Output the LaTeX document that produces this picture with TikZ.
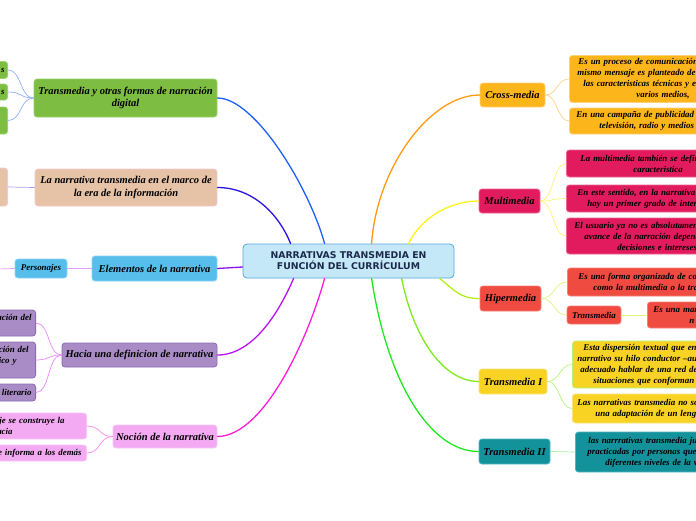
\documentclass[tikz,border=0pt]{standalone}
\usepackage{fontspec}
\setmainfont{Liberation Serif}
\newfontfamily\ctrfont{DejaVu Sans}
\usetikzlibrary{calc}
\definecolor{gruen}{HTML}{7CBD42}
\definecolor{gruenR}{HTML}{9AD36A}
\definecolor{sand}{HTML}{E6C2A6}
\definecolor{sandR}{HTML}{F5C8CF}
\definecolor{himmel}{HTML}{57BDEB}
\definecolor{himmelR}{HTML}{8CD4F3}
\definecolor{lila}{HTML}{A98CC6}
\definecolor{lilaR}{HTML}{8C69B3}
\definecolor{rosa}{HTML}{F3AAF2}
\definecolor{rosaR}{HTML}{F8C6F7}
\definecolor{ora}{HTML}{FCB51A}
\definecolor{oraR}{HTML}{FFD27A}
\definecolor{himb}{HTML}{E21B5F}
\definecolor{himbR}{HTML}{F0628F}
\definecolor{rot}{HTML}{F04B40}
\definecolor{rotR}{HTML}{F58078}
\definecolor{gelb}{HTML}{F8D324}
\definecolor{gelbR}{HTML}{FBE27A}
\definecolor{petrol}{HTML}{14929C}
\definecolor{petrolR}{HTML}{4FB8C0}
\definecolor{hell}{HTML}{C5E8F8}
\definecolor{hellR}{HTML}{5AA5DB}
\definecolor{navy}{HTML}{1B2A4A}
% connector colours
\definecolor{cBlau}{HTML}{1F5FFF}
\definecolor{cIndigo}{HTML}{2A12E0}
\definecolor{cPurp}{HTML}{8A10F0}
\definecolor{cViol}{HTML}{BB12F5}
\definecolor{cMag}{HTML}{FF1CD8}
\definecolor{cOra}{HTML}{FF9A10}
\definecolor{cGelb}{HTML}{FFF21A}
\definecolor{cLime}{HTML}{B0F01A}
\definecolor{cGruen}{HTML}{7EEB1A}
\definecolor{cGift}{HTML}{1EE81E}
\definecolor{tBlau}{HTML}{8FB0FF}
\definecolor{tLav}{HTML}{A9A0F5}
\definecolor{tLila}{HTML}{E0A0F5}
\definecolor{tViol}{HTML}{E88AF5}
\definecolor{tMag}{HTML}{FF8AE8}
\definecolor{tOra}{HTML}{FFD08A}
\definecolor{tGelb}{HTML}{FFF27A}
\definecolor{tLime}{HTML}{D9F57A}
\definecolor{tGruen}{HTML}{B4F57A}
\definecolor{tGift}{HTML}{A0F0A0}
\newcommand{\padx}[1]{\leavevmode\hbox to #1pt{}}
\setlength{\parindent}{0pt}

\begin{document}
\begin{tikzpicture}[x=1pt,y=-1pt,line cap=round]
	\tikzstyle{topic}=[draw,rounded corners=3pt,line width=.8pt,inner sep=0pt,align=center,font=\fontsize{10.5}{12.5}\selectfont\bfseries\itshape];
	\tikzstyle{leaf}=[draw,rounded corners=3pt,line width=.8pt,inner sep=0pt,font=\fontsize{8.9}{11}\selectfont\bfseries\itshape];
	\tikzstyle{leafR}=[leaf,anchor=west,minimum width=200pt,text width=200pt,align=left];
	\tikzstyle{leafL}=[leaf,anchor=east,minimum width=110pt,text width=110pt,align=right];
	\tikzstyle{branch}=[line width=1.3pt];
	\tikzstyle{twig}=[line width=.7pt];
%<--------------------------------------------------------------------------->%

	\useasboundingbox (0,0) rectangle (696,520);
	\clip (0,0) rectangle (696,520);
	\node[draw=hellR,fill=hell,rounded corners=4pt,line width=.8pt,minimum width=211pt,minimum height=34pt,inner sep=0pt,align=center,text=navy,font=\fontsize{9.3}{11}\selectfont\ctrfont\bfseries] (ctr) at (348.5,261) {NARRATIVAS TRANSMEDIA EN\\FUNCIÓN DEL CURRÍCULUM};
	%% left side
	\node[topic,fill=gruen,draw=gruenR,minimum width=183pt,minimum height=38pt] (trans) at (125.5,98) {Transmedia y otras formas de narración\\digital};
	\node[topic,fill=sand,draw=sandR,minimum width=182pt,minimum height=37pt] (marco) at (126,187.5) {La narrativa transmedia en el marco de\\la era de la información};
	\node[topic,fill=himmel,draw=himmelR,minimum width=125pt,minimum height=25pt] (elem) at (154.5,268.5) {Elementos de la narrativa};
	\node[topic,fill=lila,draw=lilaR,minimum width=155pt,minimum height=24pt] (defi) at (139.5,355) {Hacia una definicion de narrativa};
	\node[topic,fill=rosa,draw=rosaR,minimum width=104pt,minimum height=23pt] (nocion) at (165,436.5) {Noción de la narrativa};
	\node[leafL,fill=gruen,draw=gruenR,minimum height=17pt] (tr1) at (8,70) {s\padx{3}};
	\node[leafL,fill=gruen,draw=gruenR,minimum height=16pt] (tr2) at (8,92) {s\padx{3}};
	\node[leafL,fill=gruen,draw=gruenR,minimum height=27pt] (tr3) at (8,120.5) {};
	\node[leafL,fill=sand,draw=sandR,minimum height=38pt] (ma1) at (8,187) {};
	\node[leaf,fill=himmel,draw=himmelR,minimum width=52pt,minimum height=19pt] (pers) at (41,268.5) {Personajes};
	\coordinate (persX) at (-4,269);
	\node[leafL,fill=lila,draw=lilaR,minimum height=26pt] (de1) at (36,323) {ación del\padx{4}\\\mbox{}};
	\node[leafL,fill=lila,draw=lilaR,minimum height=36pt] (de2) at (36,360) {ción del\padx{7}\\ico y\padx{19}\\\mbox{}};
	\node[leafL,fill=lila,draw=lilaR,minimum height=17pt] (de3) at (36,392.5) {literario\padx{4}};
	\node[leafL,fill=rosa,draw=rosaR,minimum height=26pt] (no1) at (87,426) {je se construye la\padx{22}\\acia\padx{74}};
	\node[leafL,fill=rosa,draw=rosaR,minimum height=16pt] (no2) at (87,453) {se informa a los demás\padx{5}};
	%% right side
	\node[topic,fill=ora,draw=oraR,minimum width=65pt,minimum height=24pt] (cross) at (512.5,95) {Cross-media};
	\node[topic,fill=himb,draw=himbR,minimum width=61pt,minimum height=24pt] (multi) at (509.5,201) {Multimedia};
	\node[topic,fill=rot,draw=rotR,minimum width=61pt,minimum height=25pt] (hiper) at (510.5,298.5) {Hipermedia};
	\node[topic,fill=gelb,draw=gelbR,minimum width=68pt,minimum height=25pt] (tmI) at (513,381.5) {Transmedia I};
	\node[topic,fill=petrol,draw=petrolR,minimum width=71pt,minimum height=25pt] (tmII) at (514.5,451.5) {Transmedia II};
	\node[leafR,fill=ora,draw=oraR,minimum height=47pt] (cr1) at (569,79) {\padx{9}Es un proceso de comunicación\\\padx{8}mismo mensaje es planteado de\\\padx{14}las caracteristicas técnicas y ex\\\padx{67}varios medios,};
	\node[leafR,fill=ora,draw=oraR,minimum height=26pt] (cr2) at (569,121) {\padx{7}En una campaña de publicidad q\\\padx{30}televisión, radio y medios};
	\node[leafR,fill=himb,draw=himbR,minimum height=27pt] (mu1) at (566,163.5) {\padx{14}La multimedia también se defin\\\padx{67}caracteristica};
	\node[leafR,fill=himb,draw=himbR,minimum height=27pt] (mu2) at (566,198.5) {\padx{11}En este sentido, en la narrativa\\\padx{21}hay un primer grado de intera};
	\node[leafR,fill=himb,draw=himbR,minimum height=36pt] (mu3) at (566,236) {\padx{8}El usuario ya no es absolutamen\\\padx{18}avance de la narración depend\\\padx{51}decisiones e intereses};
	\node[leafR,fill=rot,draw=rotR,minimum height=28pt] (hi1) at (567,282) {\padx{11}Es una forma organizada de co\\\padx{26}como la multimedia o la tra};
	\node[leaf,fill=rot,draw=rotR,minimum width=54pt,minimum height=18pt] (hi2) at (594,315) {Transmedia};
	\node[leafR,fill=rot,draw=rotR,minimum height=26pt] (hi3) at (647,315) {\padx{6}Es una mar\\\padx{42}n};
	\node[leafR,fill=gelb,draw=tGruen,minimum height=47pt] (ti1) at (572,364.5) {\padx{11}Esta dispersión textual que enc\\\padx{5}narrativo su hilo conductor –au\\\padx{8}adecuado hablar de una red de\\\padx{21}situaciones que conforman};
	\node[leafR,fill=gelb,draw=gelbR,minimum height=29pt] (ti2) at (572,408.5) {\padx{5}Las narrativas transmedia no so\\\padx{23}una adaptación de un lengu};
	\node[leafR,fill=petrol,draw=petrolR,minimum height=40pt] (tj1) at (575,452) {\padx{13}las narrrativas transmedia ju\\\padx{12}practicadas por personas que\\\padx{30}diferentes niveles de la v};
	%% end points on the central topic
	\coordinate (nA) at ($(ctr.north west)+(82,0)$);
	\coordinate (nB) at ($(ctr.north west)+(48,0)$);
	\coordinate (nC) at ($(ctr.north west)+(129,0)$);
	\coordinate (nD) at ($(ctr.north west)+(166,0)$);
	\coordinate (sA) at ($(ctr.south west)+(51,0)$);
	\coordinate (sB) at ($(ctr.south west)+(82,0)$);
	\coordinate (sC) at ($(ctr.south west)+(129,0)$);
	\coordinate (sD) at ($(ctr.south west)+(159,0)$);
	\coordinate (sE) at ($(ctr.south west)+(197,0)$);
	\coordinate (wA) at ($(ctr.west)+(0,6)$);
	%% branches
	\draw[branch,cBlau] (trans.east) .. controls +(38,0) and +(-15,-55) .. (nA);
	\draw[branch,cIndigo] (marco.east) .. controls +(35,0) and +(-12,-30) .. (nB);
	\draw[branch,cPurp] (elem.east) .. controls +(12,0) and +(-12,0) .. (wA);
	\draw[branch,cViol] (defi.east) .. controls +(35,0) and +(-15,35) .. (sA);
	\draw[branch,cMag] (nocion.east) .. controls +(45,0) and +(-18,65) .. (sB);
	\draw[branch,cOra] (nC) .. controls +(5,-75) and +(-50,0) .. (cross.west);
	\draw[branch,cGelb] (nD) .. controls +(12,-25) and +(-30,0) .. (multi.west);
	\draw[branch,cLime] (sE) .. controls +(15,12) and +(-20,0) .. (hiper.west);
	\draw[branch,cGruen] (sD) .. controls +(12,60) and +(-35,0) .. (tmI.west);
	\draw[branch,cGift] (sC) .. controls +(15,100) and +(-50,0) .. (tmII.west);
	%% twigs
	\foreach \k in {tr1,tr2,tr3} \draw[twig,tBlau] (trans.west) .. controls +(-14,0) and +(14,0) .. (\k.east);
	\draw[twig,tLav] (marco.west) -- (ma1.east);
	\draw[twig,tLila] (elem.west) -- (pers.east);
	\draw[twig,tLila] (pers.west) -- (persX);
	\foreach \k in {de1,de2,de3} \draw[twig,tViol] (defi.west) .. controls +(-14,0) and +(14,0) .. (\k.east);
	\foreach \k in {no1,no2} \draw[twig,tMag] (nocion.west) .. controls +(-14,0) and +(14,0) .. (\k.east);
	\foreach \k in {cr1,cr2} \draw[twig,tOra] (cross.east) .. controls +(12,0) and +(-12,0) .. (\k.west);
	\foreach \k in {mu1,mu2,mu3} \draw[twig,tGelb] (multi.east) .. controls +(13,0) and +(-13,0) .. (\k.west);
	\foreach \k in {hi1,hi2} \draw[twig,tLime] (hiper.east) .. controls +(13,0) and +(-13,0) .. (\k.west);
	\draw[twig,tLime] (hi2.east) -- (hi3.west);
	\foreach \k in {ti1,ti2} \draw[twig,tGruen] (tmI.east) .. controls +(13,0) and +(-13,0) .. (\k.west);
	\draw[twig,tGift] (tmII.east) -- (tj1.west);
\end{tikzpicture}
\end{document}
